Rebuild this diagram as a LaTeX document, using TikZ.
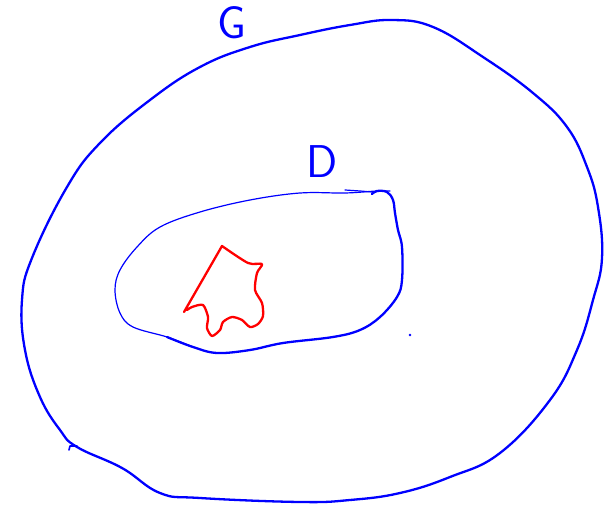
\documentclass[tikz,border=0pt]{standalone}
\begin{document}
\begin{tikzpicture}[x=1pt,y=-1pt,
  ink/.style={draw=blue, line cap=round, line join=round},
  redink/.style={draw=red, line width=2.3pt, line cap=round, line join=round},
  lbl/.style={text=blue, font=\sffamily\fontsize{46}{46}\selectfont, inner sep=0pt}]
\useasboundingbox (0,0) rectangle (614,506);
% outer region G
\draw[ink, line width=2.3pt] plot[smooth cycle, tension=0.7] coordinates {
 (32,258) (67,187) (100,143) (150,100) (200,67) (250,47) (300,35)
 (350,25) (392,20) (433,27) (483,57) (533,93) (567,127) (587,167) (598,207)
 (602,258) (593,300) (577,350) (550,400) (500,453) (450,477)
 (400,493) (350,500) (300,502) (200,498) (160,493) (122,468) (77,447)
 (60,430) (40,397) (25,350) (22,300)};
\draw[ink, line width=1.6pt] (77,446) -- (70,446) -- (69,450);
% inner region D (thin part)
\draw[ink, line width=1.2pt] plot[smooth, tension=0.6] coordinates {
 (390,191) (377,191) (345,193) (300,193) (250,200) (200,212) (160,227) (137,247)
 (120,270) (115,290) (120,313) (133,327) (167,337) (193,347)};
% inner region D (thick part)
\draw[ink, line width=2.3pt] plot[smooth, tension=0.6] coordinates {
 (167,337) (193,347) (217,353) (250,350) (283,343) (333,337) (360,330)
 (380,317) (397,297) (402,280) (402,247) (398,230) (395,213) (393,200)
 (387,192) (377,191) (372,194)};
\draw[ink, line width=1.2pt] plot[smooth] coordinates {(345,190) (360,191) (372,192)};
% red set
\draw[redink] (184,312) -- plot[smooth, tension=0.45] coordinates {
 (222,246) (248,263) (262,264) (257,273) (255,290) (262,303) (263,316)
 (258,324) (250,327) (242,320) (232,317) (223,322) (220,330) (212,336)
 (207,328) (208,317) (203,305) (192,307) (187,310)};
% dot
\fill[blue] (410,335) circle (1.4);
% labels
\node[lbl] (G) at (232,23) {G};
\node[lbl] (D) at (322,162) {D};
\end{tikzpicture}
\end{document}
